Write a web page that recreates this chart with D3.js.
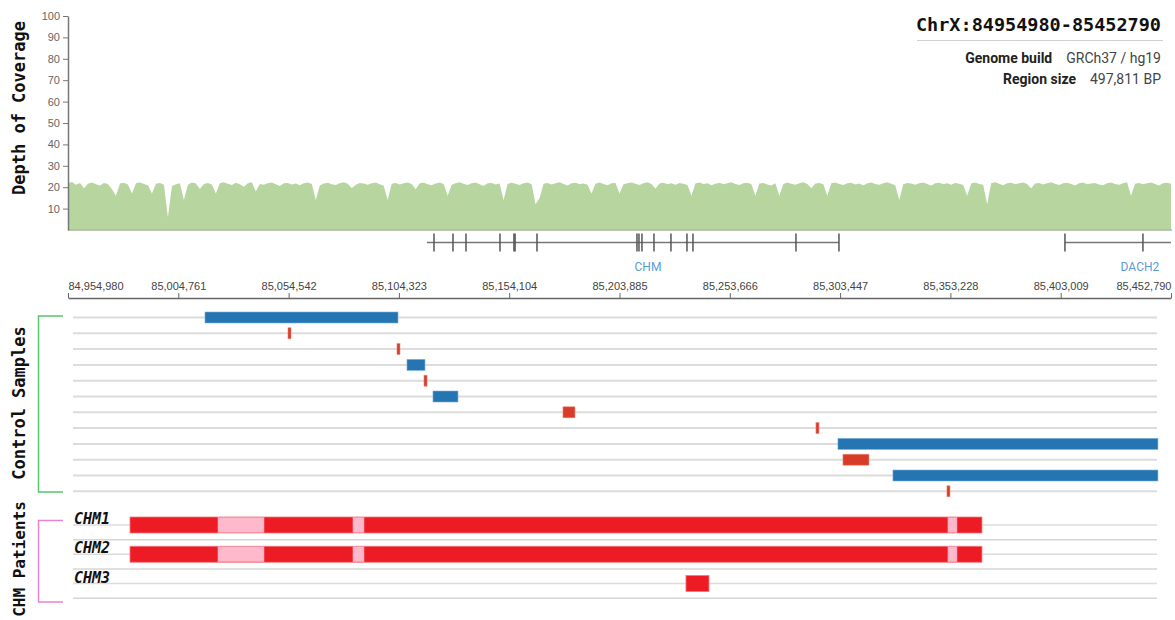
<html>
<head>
<script src="https://d3js.org/d3.v7.min.js" charset="utf-8"></script>
<style>
    body{ margin:0; background:#fff; }
    .axis text{ font-family:"Liberation Sans", Arial, sans-serif; }
    .mono{ font-family:"DejaVu Sans Mono", monospace; font-weight:bold; }
    .info{ font-family:Roboto, "Noto Sans", sans-serif; font-size:14px; }
</style>
</head>
<body>
<div id="chart"></div>
<script>
// region shown
const regionStart = 84954980, regionEnd = 85452790;
const axisTicks = [84954980, 85004761, 85054542, 85104323, 85154104, 85203885,
                   85253666, 85303447, 85353228, 85403009, 85452790];
const depthTicks = [10, 20, 30, 40, 50, 60, 70, 80, 90, 100];

// depth of coverage, evenly spaced across the region
const coverage = [
 21.8,22.4,21.2,22,19.5,21.6,22.2,21.4,20.8,22,21.5,19,16,21.7,22.1,21.3,17,21.9,22.2,21.5,
 20.9,17,21.6,22,21.2,6,20.5,21.4,21.9,14,21.1,22.2,21.7,19.2,21.5,22,21.3,17,21.8,22.3,
 21.6,21,22.1,21.4,20.2,21.9,22.3,18,21.5,21.1,21.9,22.2,21.4,20.6,21.8,22,21.3,21.7,20.9,21.9,
 22.2,21.5,14,20.8,21.7,22.1,21.4,21,21.9,22.3,21.6,19.5,21.2,22,21.7,21.1,21.8,22.2,21.4,20.7,
 14,21.6,22,21.3,21.8,22.2,21.5,19,21.9,22.1,21.4,20.9,21.7,22.2,21.5,16,21.1,21.8,22.3,21.6,
 21,21.9,22.2,21.4,20.6,21.8,22,21.3,21.7,14,21.5,22.1,21.6,21,21.9,22.2,21.4,12,15,21.6,
 22,21.3,21.8,22.3,21.5,20.8,21.9,22.1,21.4,21.7,21.2,17,21.6,22.2,21.5,20.9,21.8,22,17,21.4,
 21.9,22.2,21.6,21,21.8,22.3,21.5,19.3,21.7,22.1,21.4,21.9,21.2,22,21.6,21,16,21.7,22.2,21.5,
 21.8,20.9,21.6,22.1,21.4,21.9,22.3,21.5,21,21.8,22.1,21.4,16,21.7,22,21.3,20.8,21.9,16,21.5,
 22.2,21.6,21.1,21.9,22.3,21.5,19.5,21.7,22,21.4,16,21.8,22.2,21.5,21,21.9,22.1,21.3,21.7,20.8,
 21.9,22.2,21.5,21.1,21.8,22.3,21.6,20.9,14,21.4,22,21.7,21.2,21.9,22.2,21.5,20.7,21.8,22.1,21.4,
 21.9,21.2,22,21.6,21,16,21.7,22.2,21.5,21.1,12,21.8,22.3,21.6,20.9,21.9,22.1,21.4,21.8,22.2,
 21.5,19.4,21.7,22,21.3,21.9,22.3,21.6,21,21.8,22.1,21.5,20.8,21.9,22.2,21.4,21.7,22,21.3,20.9,
 21.8,22.2,21.5,21.1,21.9,22.3,16,21.6,22,21.4,21.8,22.2,21.5,20.8,21.9,22.1,21.6
];

// genes
const geneNames   = ['CHM', 'DACH2'];
const geneStarts  = [85116997, 85404926];
const geneEnds    = [85302932, 85452790];
const geneLabelAt = [85216734, 85438774];
const geneExons   = [
  [85120156, 85128730, 85134597, 85149942, 85156260, 85156750, 85166640, 85211770, 85212672,
   85214026, 85219442, 85227114, 85234335, 85237043, 85283526, 85302932],
  [85404926, 85440128]
];

// control sample events (one per row)
const controlStarts = [85016808, 85054266, 85103458, 85107971, 85115643, 85119705,
                       85178374, 85292552, 85302481, 85304738, 85327303, 85351673];
const controlEnds   = [85103909, 85055620, 85104812, 85116094, 85117017, 85130987,
                       85183789, 85293906, 85446897, 85316471, 85446897, 85353027];
const controlTypes  = ['gain','loss','loss','gain','loss','gain',
                       'loss','loss','gain','loss','gain','loss'];

// patients
const patientNames  = ['CHM1', 'CHM2', 'CHM3'];
const patientStarts = [84982961, 84982961, 85233883];
const patientEnds   = [85367468, 85367468, 85244263];
const pinkStarts    = [[85022675, 85083601, 85352124], [85022675, 85083601, 85352124], []];
const pinkEnds      = [[85043435, 85088565, 85356186], [85043435, 85088565, 85356186], []];

const w = 1175, h = 620;
const left = 68, right = 1171;

const svg = d3.select('#chart').append('svg').attr('width', w).attr('height', h);

const x = d3.scaleLinear().domain([regionStart, regionEnd]).range([left, right]);
const yDepth = d3.scaleLinear().domain([0, 100]).range([230, 16]);
const idxToPos = d3.scaleLinear().domain([0, coverage.length - 1]).range([regionStart, regionEnd]);

// coverage area
const area = d3.area()
    .x((d, i) => x(idxToPos(i)))
    .y0(yDepth(0))
    .y1(d => yDepth(d));

svg.append('path')
    .datum(coverage)
    .attr('d', area)
    .attr('fill', '#b6d59f');

svg.append('line')
    .attr('x1', left).attr('x2', right + 1)
    .attr('y1', yDepth(0)).attr('y2', yDepth(0))
    .attr('stroke', '#a9b8a0').attr('stroke-width', 1.5);

const yAxis = d3.axisLeft(yDepth).tickValues(depthTicks).tickSize(5).tickSizeOuter(0);
const gy = svg.append('g')
    .attr('class', 'axis')
    .attr('transform', 'translate(' + left + ',0)')
    .call(yAxis);
gy.select('.domain').attr('stroke', '#777').attr('stroke-width', 1.5);
gy.selectAll('.tick line').attr('stroke', '#777');
gy.selectAll('.tick text').attr('fill', '#666').style('font-size', '11px');

svg.append('text')
    .attr('class', 'mono')
    .attr('transform', 'translate(25,' + 108 + ') rotate(-90)')
    .attr('text-anchor', 'middle')
    .style('font-size', '17px')
    .attr('fill', '#111')
    .text('Depth of Coverage');

// header
const rightEdge = 1161;
svg.append('text')
    .attr('class', 'mono')
    .attr('x', rightEdge).attr('y', 31)
    .attr('text-anchor', 'end')
    .style('font-size', '18.5px')
    .attr('fill', '#111')
    .text('ChrX:' + regionStart + '-' + regionEnd);
svg.append('line')
    .attr('x1', 917).attr('x2', rightEdge + 2)
    .attr('y1', 40.5).attr('y2', 40.5)
    .attr('stroke', '#d0d0d0');

const infoLabels = ['Genome build', 'Region size'];
const infoValues = ['GRCh37 / hg19', d3.format(',')(regionEnd - regionStart + 1) + ' BP'];
infoLabels.forEach(function(lab, i){
    const yy = 63 + i * 21;
    const v = svg.append('text')
        .attr('class', 'info')
        .attr('x', rightEdge).attr('y', yy)
        .attr('text-anchor', 'end')
        .attr('fill', '#444')
        .text(infoValues[i]);
    const vw = v.node().getComputedTextLength();
    svg.append('text')
        .attr('class', 'info')
        .attr('x', rightEdge - vw - 14).attr('y', yy)
        .attr('text-anchor', 'end')
        .attr('fill', '#222')
        .style('font-weight', 'bold')
        .text(lab);
});

// gene track
const geneY = 242.5;
const genes = svg.append('g');
geneNames.forEach(function(name, i){
    genes.append('line')
        .attr('x1', x(geneStarts[i])).attr('x2', Math.min(x(geneEnds[i]), right + 1))
        .attr('y1', geneY).attr('y2', geneY)
        .attr('stroke', '#777').attr('stroke-width', 1.5);
    genes.selectAll('.exon' + i)
        .data(geneExons[i])
        .enter()
        .append('line')
        .attr('x1', d => x(d)).attr('x2', d => x(d))
        .attr('y1', geneY - 9).attr('y2', geneY + 9)
        .attr('stroke', '#555').attr('stroke-width', 1.5);
    genes.append('text')
        .attr('x', x(geneLabelAt[i])).attr('y', 271)
        .attr('text-anchor', 'middle')
        .style('font-family', 'Roboto, sans-serif')
        .style('font-size', '12px')
        .attr('fill', '#5b9bd5')
        .text(name);
});

// genomic position axis
const xAxis = d3.axisTop(x).tickValues(axisTicks).tickFormat(d3.format(',')).tickSize(5).tickSizeOuter(0);
const gx = svg.append('g')
    .attr('class', 'axis')
    .attr('transform', 'translate(0,298)')
    .call(xAxis);
gx.select('.domain').attr('stroke', '#666').attr('stroke-width', 1.5);
gx.selectAll('.tick line').attr('stroke', '#666');
gx.selectAll('.tick text').attr('fill', '#444').style('font-size', '11px').attr('y', -8);
gx.selectAll('.tick text').filter((d, i) => i === 0).attr('text-anchor', 'start');
gx.selectAll('.tick text').filter((d, i) => i === axisTicks.length - 1).attr('text-anchor', 'end');

// control samples
const lineX1 = 73, lineX2 = 1157;
const yCtrl = d3.scaleLinear().domain([0, 11]).range([317.5, 491.3]);
const ctrlRows = d3.range(controlStarts.length);
const colorType = d3.scaleOrdinal().domain(['gain', 'loss']).range(['#2475b1', '#d83b27']);
const strokeType = d3.scaleOrdinal().domain(['gain', 'loss']).range(['#7aaede', '#ec8a7e']);

svg.selectAll('.ctrl-line')
    .data(ctrlRows)
    .enter()
    .append('line')
    .attr('x1', lineX1).attr('x2', lineX2)
    .attr('y1', d => yCtrl(d)).attr('y2', d => yCtrl(d))
    .attr('stroke', '#dcdcdc').attr('stroke-width', 2);

svg.selectAll('.ctrl-bar')
    .data(ctrlRows)
    .enter()
    .append('rect')
    .attr('x', d => x(controlStarts[d]))
    .attr('y', d => yCtrl(d) - 5.5)
    .attr('width', d => Math.max(3, x(controlEnds[d]) - x(controlStarts[d])))
    .attr('height', 11)
    .attr('fill', d => colorType(controlTypes[d]))
    .attr('stroke', d => strokeType(controlTypes[d]))
    .attr('stroke-width', 0.6);

// green bracket
svg.append('path')
    .attr('d', d3.line()([[63, 316], [38.5, 316], [38.5, 492], [63, 492]]))
    .attr('fill', 'none').attr('stroke', '#5cc46c').attr('stroke-width', 1.5);

svg.append('text')
    .attr('class', 'mono')
    .attr('transform', 'translate(25,' + 403 + ') rotate(-90)')
    .attr('text-anchor', 'middle')
    .style('font-size', '17px')
    .attr('fill', '#111')
    .text('Control Samples');

// patients
const yPat = d3.scaleLinear().domain([0, 2]).range([525, 583.5]);
const patRows = d3.range(patientNames.length);

svg.selectAll('.pat-line')
    .data(patRows)
    .enter()
    .append('line')
    .attr('x1', lineX1).attr('x2', lineX2)
    .attr('y1', d => yPat(d)).attr('y2', d => yPat(d))
    .attr('stroke', '#dcdcdc').attr('stroke-width', 1.5);
svg.selectAll('.pat-sep')
    .data(patRows)
    .enter()
    .append('line')
    .attr('x1', lineX1).attr('x2', lineX2)
    .attr('y1', d => yPat(d) + 14.7).attr('y2', d => yPat(d) + 14.7)
    .attr('stroke', '#d6d6d6').attr('stroke-width', 1.5);

svg.selectAll('.pat-bar')
    .data(patRows)
    .enter()
    .append('rect')
    .attr('x', d => x(patientStarts[d]))
    .attr('y', d => yPat(d) - 8)
    .attr('width', d => x(patientEnds[d]) - x(patientStarts[d]))
    .attr('height', 16)
    .attr('fill', '#ed1c24')
    .attr('stroke', '#f3797e')
    .attr('stroke-width', 0.8);

patRows.forEach(function(r){
    svg.selectAll('.pink' + r)
        .data(d3.range(pinkStarts[r].length))
        .enter()
        .append('rect')
        .attr('x', k => x(pinkStarts[r][k]))
        .attr('y', yPat(r) - 7.5)
        .attr('width', k => x(pinkEnds[r][k]) - x(pinkStarts[r][k]))
        .attr('height', 15)
        .attr('fill', '#ffb9cd')
        .attr('stroke', '#f7a0b4')
        .attr('stroke-width', 0.6);
});

svg.selectAll('.pat-name')
    .data(patRows)
    .enter()
    .append('text')
    .attr('class', 'mono')
    .attr('x', 74).attr('y', d => yPat(d) - 1)
    .style('font-size', '15px')
    .style('font-style', 'italic')
    .attr('fill', '#111')
    .text(d => patientNames[d]);

// pink bracket
svg.append('path')
    .attr('d', d3.line()([[63, 520.5], [38.5, 520.5], [38.5, 602], [63, 602]]))
    .attr('fill', 'none').attr('stroke', '#e784d2').attr('stroke-width', 1.5);

svg.append('text')
    .attr('class', 'mono')
    .attr('transform', 'translate(25,' + 559 + ') rotate(-90)')
    .attr('text-anchor', 'middle')
    .style('font-size', '16px')
    .attr('fill', '#111')
    .text('CHM Patients');
</script>
</body>
</html>
